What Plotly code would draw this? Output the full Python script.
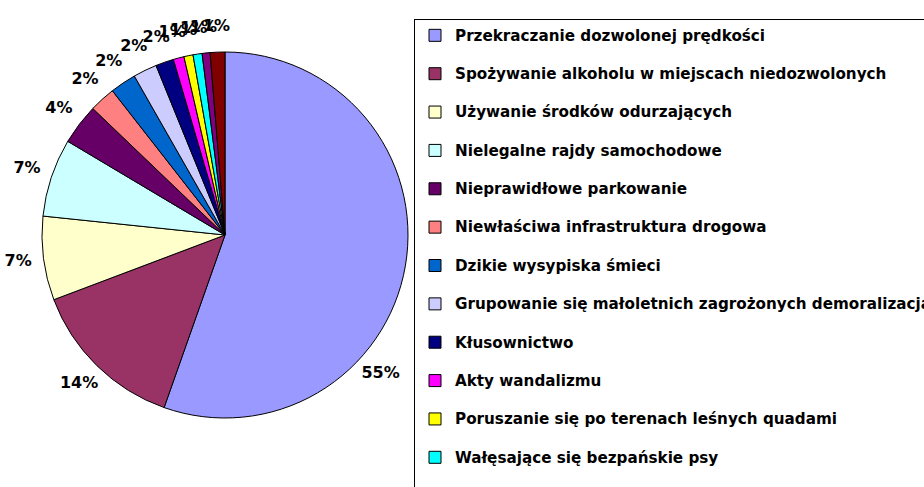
import math
import plotly.graph_objects as go

categories = [
    "Przekraczanie dozwolonej prędkości",
    "Spożywanie alkoholu w miejscach niedozwolonych",
    "Używanie środków odurzających",
    "Nielegalne rajdy samochodowe",
    "Nieprawidłowe parkowanie",
    "Niewłaściwa infrastruktura drogowa",
    "Dzikie wysypiska śmieci",
    "Grupowanie się małoletnich zagrożonych demoralizacją",
    "Kłusownictwo",
    "Akty wandalizmu",
    "Poruszanie się po terenach leśnych quadami",
    "Wałęsające się bezpańskie psy",
    "Zakłócanie porządku publicznego",
    "Inne",
]
values = [55.4, 13.85, 7.4, 6.9, 3.6, 2.3, 2.3, 2.1, 1.6, 0.95, 0.8, 0.8, 0.7, 1.3]
colors = ["#9999FF", "#993366", "#FFFFCC", "#CCFFFF", "#660066", "#FF8080",
          "#0066CC", "#CCCCFF", "#000080", "#FF00FF", "#FFFF00", "#00FFFF",
          "#800080", "#800000"]

W, H = 924, 487
cx, cy, r = 225, 235, 183

legend_labels = ["<span style='font-size:15.2px'>%s</span><br>" % c for c in categories]

pie_dom_x = [(cx - r) / W, (cx + r) / W]
pie_dom_y = [(H - cy - r) / H, (H - cy + r) / H]

fig = go.Figure()
fig.add_trace(go.Pie(
    labels=legend_labels,
    values=values,
    sort=False,
    direction="clockwise",
    rotation=0,
    marker=dict(colors=colors, line=dict(color="black", width=1)),
    textinfo="none",
    hoverinfo="label+percent",
    domain=dict(x=pie_dom_x, y=pie_dom_y),
))

# percentage labels placed outside the slices (in pie-radius units)
LABEL_R = 1.14
LABEL_XMAX = 0.85            # keep labels clear of the legend on the right
total = sum(values)
cum = 0.0
lab_x, lab_y, lab_t = [], [], []
for v in values:
    mid = (cum + v / 2) / total * 2 * math.pi
    cum += v
    x = LABEL_R * math.sin(mid)
    y = LABEL_R * math.cos(mid)
    if x > LABEL_XMAX:
        a = math.asin(LABEL_XMAX / LABEL_R)
        x = LABEL_XMAX
        y = math.copysign(LABEL_R * math.cos(a), y)
    lab_x.append(x)
    lab_y.append(y)
    lab_t.append("%d%%" % round(v / total * 100))

fig.add_trace(go.Scatter(
    x=lab_x, y=lab_y, text=lab_t, mode="text",
    textfont=dict(family="DejaVu Sans", size=16, color="black", weight="bold"),
    textposition="middle center",
    hoverinfo="skip", showlegend=False, cliponaxis=False,
))

# label axes share the pie's centre and radius units, extended to hold the labels
xr = [-1.18, 1.0]
yr = [-1.2, 1.2]
ax_dom_x = [(cx + xr[0] * r) / W, (cx + xr[1] * r) / W]
ax_dom_y = [(H - cy + yr[0] * r) / H, (H - cy + yr[1] * r) / H]

fig.update_layout(
    width=W, height=H,
    margin=dict(l=0, r=0, t=0, b=0, autoexpand=False),
    paper_bgcolor="white",
    plot_bgcolor="rgba(0,0,0,0)",
    showlegend=True,
    xaxis=dict(domain=ax_dom_x, range=xr, visible=False, fixedrange=True),
    yaxis=dict(domain=ax_dom_y, range=yr, visible=False, fixedrange=True),
    legend=dict(
        x=414 / W, y=1 - 19 / H, xanchor="left", yanchor="top",
        bgcolor="white", bordercolor="black", borderwidth=1,
        font=dict(family="DejaVu Sans", size=13.6, color="black", weight="bold"),
        valign="top",
        itemwidth=30,
    ),
)

fig.write_html("out.html",
               config={"displayModeBar": False},
               post_script="document.body.style.margin='0';document.body.style.overflow='hidden';")
